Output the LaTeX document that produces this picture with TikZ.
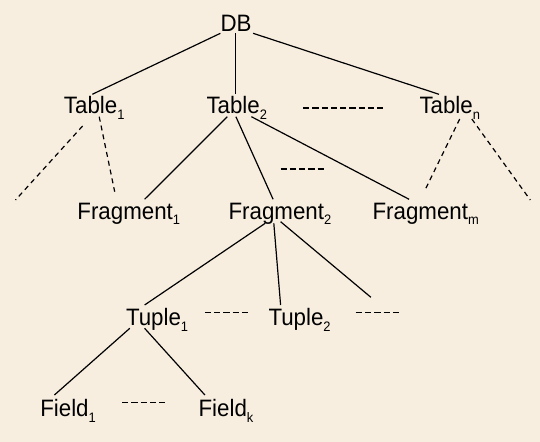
\documentclass[tikz,border=0pt]{standalone}
\usepackage{fontspec}
\setmainfont{Liberation Sans}[FakeStretch=0.94]
\newcommand\sbs[1]{\raisebox{-4pt}{\fontsize{10.3}{10}\selectfont #1}}
\definecolor{bgbeige}{RGB}{247,238,224}
\begin{document}
\begin{tikzpicture}[x=0.75pt,y=-0.75pt,
  lbl/.style={anchor=base west,inner sep=0pt,outer sep=0pt,font=\fontsize{17.8}{20}\selectfont},
  edge/.style={line width=0.9pt},
  dedge/.style={line width=0.9pt,dash pattern=on 3.75pt off 3pt},
  dots/.style={line width=0.9pt,dash pattern=on 4.7pt off 2.25pt}]
\fill[bgbeige] (0,0) rectangle (540,442);
\useasboundingbox (0,0) rectangle (540,442);
% nodes
\node[lbl] (db) at (220.5,31.5) {DB};
\node[lbl] (t1) at (64,114) {Table\sbs{1}};
\node[lbl] (t2) at (206.5,114) {Table\sbs{2}};
\node[lbl] (tn) at (419.5,114) {Table\sbs{n}};
\node[lbl] (f1) at (77.4,219.5) {Fragment\sbs{1}};
\node[lbl] (f2) at (228.6,219.5) {Fragment\sbs{2}};
\node[lbl] (fm) at (372.6,219.5) {Fragment\sbs{m}};
\node[lbl] (u1) at (126,325.7) {Tuple\sbs{1}};
\node[lbl] (u2) at (268.5,325.7) {Tuple\sbs{2}};
\node[lbl] (d1) at (40.3,416.7) {Field\sbs{1}};
\node[lbl] (dk) at (198.6,416.7) {Field\sbs{k}};
% free ends
\coordinate (t1far) at (15.5,200);
\coordinate (tnfar) at (530.3,200);
\coordinate (f2far) at (370.9,297.3);
% connectors
\draw[edge] ([shift={(-0.1,1.8)}]db.base west) -- ([shift={(28.3,-19.7)}]t1.base west);
\draw[edge] ([shift={(15,1.8)}]db.base west) -- ([shift={(29,-19.7)}]t2.base west);
\draw[edge] ([shift={(32.6,1.8)}]db.base west) -- ([shift={(19.5,-19.7)}]tn.base west);
\draw[dedge] ([shift={(18.6,12)}]t1.base west) -- (t1far);
\draw[dedge] ([shift={(35.2,2.7)}]t1.base west) -- ([shift={(37.3,-27.8)}]f1.base west);
\draw[edge] ([shift={(20.8,2.7)}]t2.base west) -- ([shift={(67.2,-20.2)}]f1.base west);
\draw[edge] ([shift={(29.4,2.7)}]t2.base west) -- ([shift={(44.5,-20.2)}]f2.base west);
\draw[edge] ([shift={(44.9,2.7)}]t2.base west) -- ([shift={(36.5,-20.2)}]fm.base west);
\draw[dedge] ([shift={(40.2,5)}]tn.base west) -- ([shift={(51.6,-27.8)}]fm.base west);
\draw[dedge] ([shift={(52.3,5)}]tn.base west) -- (tnfar);
\draw[edge] ([shift={(36.6,3.8)}]f2.base west) -- ([shift={(18.6,-20.7)}]u1.base west);
\draw[edge] ([shift={(45.2,3.8)}]f2.base west) -- ([shift={(12.1,-20.7)}]u2.base west);
\draw[edge] ([shift={(52,2.2)}]f2.base west) -- (f2far);
\draw[edge] ([shift={(3.8,2.6)}]u1.base west) -- ([shift={(14.1,-21.7)}]d1.base west);
\draw[edge] ([shift={(18.6,2.6)}]u1.base west) -- ([shift={(6.3,-21.7)}]dk.base west);
% ellipsis dashes
\draw[dots] (303,108) -- (384,108);
\draw[dots] (280.6,169) -- (323.7,169);
\draw[dots] (204.9,312.7) -- (247.9,312.7);
\draw[dots] (355.7,312.7) -- (399.4,312.7);
\draw[dots] (122.2,402.7) -- (164.6,402.7);
\end{tikzpicture}
\end{document}
